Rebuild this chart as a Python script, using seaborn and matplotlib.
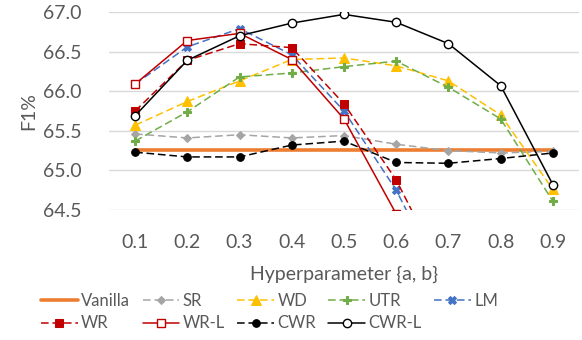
import matplotlib
matplotlib.use("Agg")
from matplotlib import pyplot as plt
import seaborn as sns

# hyperparameter values on the x axis
params = [0.1, 0.2, 0.3, 0.4, 0.5, 0.6, 0.7, 0.8, 0.9]

# F1% per method (values below 64.5 fall off the visible axis)
vanilla = [65.26, 65.26, 65.26, 65.26, 65.26, 65.26, 65.26, 65.26, 65.26]
sr = [65.46, 65.41, 65.45, 65.41, 65.44, 65.33, 65.25, 65.22, 65.24]
wd = [65.57, 65.87, 66.13, 66.40, 66.42, 66.32, 66.13, 65.70, 64.76]
utr = [65.37, 65.74, 66.18, 66.23, 66.31, 66.38, 66.05, 65.65, 64.61]
lm = [66.09, 66.56, 66.79, 66.46, 65.75, 64.75, 63.45, 62.50, 61.80]
wr = [65.75, 66.39, 66.60, 66.55, 65.84, 64.88, 63.58, 62.60, 61.90]
wr_l = [66.09, 66.64, 66.73, 66.40, 65.65, 64.45, 63.30, 62.40, 61.70]
cwr = [65.23, 65.17, 65.17, 65.32, 65.37, 65.10, 65.09, 65.15, 65.22]
cwr_l = [65.69, 66.39, 66.70, 66.86, 66.97, 66.87, 66.60, 66.07, 64.82]

yticks = [64.5, 65.0, 65.5, 66.0, 66.5, 67.0]

sns.set_style("white")
plt.rcParams['font.family'] = ['Lato', 'DejaVu Sans']
txt = '#595959'

fig = plt.figure(figsize=(5.82, 3.40), dpi=100)
ax = fig.add_axes([109 / 582, 1 - 210 / 340, 470 / 582, 198 / 340])

dash = (5, 2.5)
series = [
    ('Vanilla', vanilla, dict(color='#ED7D31', lw=2.6, marker=None)),
    ('SR', sr, dict(color='#A5A5A5', lw=1.1, dashes=dash, marker='D', ms=4.5, mfc='#A5A5A5', mec='#A5A5A5')),
    ('WD', wd, dict(color='#FFC000', lw=1.1, dashes=dash, marker='^', ms=6.5, mfc='#FFC000', mec='#FFC000')),
    ('UTR', utr, dict(color='#70AD47', lw=1.1, dashes=dash, marker='P', ms=6, mfc='#70AD47', mec='#70AD47')),
    ('LM', lm, dict(color='#4472C4', lw=1.1, dashes=dash, marker='X', ms=6, mfc='#4472C4', mec='#4472C4')),
    ('WR', wr, dict(color='#C00000', lw=1.1, dashes=dash, marker='s', ms=5.5, mfc='#C00000', mec='#C00000')),
    ('WR-L', wr_l, dict(color='#C00000', lw=1.1, marker='s', ms=5.5, mfc='white', mec='#C00000', mew=1)),
    ('CWR', cwr, dict(color='black', lw=1.1, dashes=dash, marker='o', ms=5.5, mfc='black', mec='black')),
    ('CWR-L', cwr_l, dict(color='black', lw=1.1, marker='o', ms=6, mfc='white', mec='black', mew=1)),
]

for name, vals, kw in series:
    kw = dict(kw)
    dashes = kw.pop('dashes', None)
    sns.lineplot(x=params, y=vals, ax=ax, label=name, **kw)
    if dashes is not None:
        ax.lines[-1].set_dashes(dashes)

ax.set_xlim(0.05, 0.95)
ax.set_ylim(64.5, 67.0)
ax.set_xticks(params)
ax.set_xticklabels([f'{p:.1f}' for p in params])
ax.set_yticks(yticks)
ax.set_yticklabels([f'{t:.1f}' for t in yticks])
ax.grid(axis='y', color='#D9D9D9', lw=1)
ax.set_axisbelow(True)
for s in ax.spines.values():
    s.set_visible(False)
ax.tick_params(axis='x', length=0, pad=17, labelsize=14, labelcolor=txt)
ax.tick_params(axis='y', length=0, pad=20, labelsize=14, labelcolor=txt)

ax.set_xlabel('Hyperparameter {a, b}', fontsize=14, color=txt, labelpad=11)
ax.set_ylabel('F1%', fontsize=14, color=txt, labelpad=4)

handles, labels = ax.get_legend_handles_labels()
order = [0, 5, 1, 6, 2, 7, 3, 8, 4]
leg = ax.legend([handles[i] for i in order], [labels[i] for i in order],
                ncol=5, loc='upper left', bbox_to_anchor=(-68 / 470, -0.42),
                frameon=False, fontsize=12, labelcolor=txt, handlelength=2.2,
                handletextpad=0.2, columnspacing=0.75, labelspacing=0.38,
                borderpad=0, borderaxespad=0)

fig.savefig('out.png', dpi=100)
